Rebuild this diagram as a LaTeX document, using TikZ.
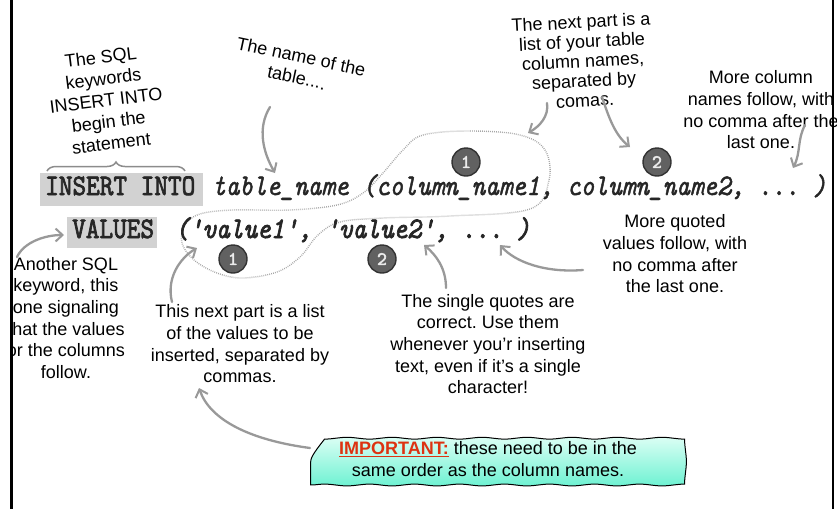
\documentclass[tikz,border=0pt]{standalone}
\usepackage{fontspec}
\setmainfont{Liberation Sans}
\newfontfamily\codeB{lmmono10-regular}[Extension=.otf, ItalicFont=lmmono10-italic, FakeBold=2.6]
\newfontfamily\codeM{lmmono10-regular}[Extension=.otf, ItalicFont=lmmono10-italic, FakeBold=1.6]
\usetikzlibrary{arrows.meta,decorations.pathmorphing,decorations.pathreplacing}
\frenchspacing
\definecolor{impred}{HTML}{DD3311}
\definecolor{aqtop}{HTML}{E4FFF7}
\definecolor{aqbot}{HTML}{6EF2D2}
\definecolor{hlgray}{HTML}{D2D2D2}
\definecolor{codegray}{HTML}{262626}
\tikzset{
  note/.style={align=center, font=\fontsize{18}{21.7}\selectfont, text=black, inner sep=0pt},
  garrow/.style={draw=black!40, line width=2.3pt, line cap=round,
    -{Straight Barb[length=7pt,width=13pt,line width=2pt]}},
  numc/.style={circle, fill=black!62, draw=black!80, line width=1.4pt, minimum size=28pt,
    inner sep=0pt, text=black!8, font=\codeB\fontsize{19}{19}\selectfont},
  kwbox/.style={fill=hlgray, draw=none},
  code/.style={anchor=base west, inner sep=0pt, text=codegray},
  lasso/.style={draw=black!35, line width=1.4pt, dash pattern=on 0.8pt off 1.2pt},
  impbox/.style={align=center, font=\fontsize{18}{21.7}\selectfont, minimum width=355pt,
    minimum height=52pt, inner sep=0pt, top color=aqtop, bottom color=aqbot, draw=black,
    line width=1pt, decorate, decoration={snake, amplitude=0.9pt, segment length=45pt}},
}
\newcommand{\codesz}{\fontsize{26}{28}\selectfont}
\newcommand{\q}{\textquotesingle}
\begin{document}
\begin{tikzpicture}[x=1pt,y=-1pt]
\useasboundingbox (0,0) rectangle (837,509);
\fill[white] (0,0) rectangle (837,509);

% highlight boxes
\fill[kwbox] (40,173) rectangle (203,206);
\fill[kwbox] (67,217) rectangle (157,248);

% dotted lasso
\draw[lasso] plot[smooth cycle, tension=0.6] coordinates {
 (423,135) (470,131) (520,135) (545,150) (549,180) (530,209) (450,216) (383,218)
 (340,222) (318,235) (300,257) (277,272) (243,278) (217,273) (194,260) (182,243)
 (185,225) (200,214) (233,210) (290,210) (337,205) (363,193) (383,173) (403,150)};

% code
\node[code] (kw1) at (45,195) {\scalebox{1}[1.15]{\codeB\codesz INSERT INTO}};
\node[code] (row1) at (212,195) {\scalebox{1}[1.15]{\codeM\itshape\codesz table\_name (column\_name1, column\_name2, ... )}};
\node[code] (kw2) at (72,238) {\scalebox{1}[1.15]{\codeB\codesz VALUES}};
\node[code] (row2) at (175,238) {\scalebox{1}[1.15]{\codeB\itshape\codesz (\q value1\q, \q value2\q, ... )}};

% numbered circles
\node[numc] (n1a) at (466,162) {1};
\node[numc] (n2a) at (657,162) {2};
\node[numc] (n1b) at (233,259) {1};
\node[numc] (n2b) at (382,259) {2};

% notes
\node[note, rotate=7] (tA) at (106,100) {The SQL\\keywords\\INSERT INTO\\begin the\\statement};
\node[note, rotate=-12] (tB) at (299,67) {The name of the\\table....};
\node[note, rotate=3, font=\fontsize{18}{19.6}\selectfont] (tC) at (583,61) {The next part is a\\list of your table\\column names,\\separated by\\comas.};
\node[note] (tD) at (761,110) {More column\\names follow, with\\no comma after the\\last one.};
\node[note] (tE) at (675,254) {More quoted\\values follow, with\\no comma after\\the last one.};
\node[note] (tF) at (66,318) {Another SQL\\keyword, this\\one signaling\\that the values\\or the columns\\follow.};
\node[note] (tG) at (240,344) {This next part is a list\\of the values to be\\inserted, separated by\\commas.};
\node[note] (tH) at (488,344) {The single quotes are\\correct. Use them\\whenever you’r inserting\\text, even if it’s a single\\character!};
\node[impbox] (imp) at (488,459) {\textcolor{impred}{\bfseries\underline{IMPORTANT:}} these need to be in the\\same order as the column names.};

% brace
\coordinate (brL) at (47,171);
\coordinate (brR) at (185,171);
\draw[draw=black!45, line width=1.5pt, decorate, decoration={brace, amplitude=9pt}] (brL) -- (brR);

% arrow end points
\coordinate (sB) at (270,107);   \coordinate (eB) at (275,173);
\coordinate (sC1) at (547,103);  \coordinate (eC1) at (528,133);
\coordinate (sC2) at (602,97);   \coordinate (eC2) at (630,147);
\coordinate (sD) at (805,125);   \coordinate (eD) at (793,168);
\coordinate (sF) at (17,257);    \coordinate (eF) at (64,235);
\coordinate (sG) at (172,302);   \coordinate (eG) at (197,248);
\coordinate (sI) at (310,448);   \coordinate (eI) at (199,388);
\coordinate (sH) at (446,288);   \coordinate (eH) at (424,245);
\coordinate (sE) at (583,270);   \coordinate (eE) at (500,245);

\draw[garrow] (sB) .. controls (257,128) and (263,152) .. (eB);
\draw[garrow] (sC1) .. controls (549,116) and (540,126) .. (eC1);
\draw[garrow] (sC2) .. controls (609,118) and (615,135) .. (eC2);
\draw[garrow] (sD) .. controls (797,140) and (801,152) .. (eD);
\draw[garrow] (sF) .. controls (24,242) and (45,235) .. (eF);
\draw[garrow] (sG) .. controls (166,278) and (180,258) .. (eG);
\draw[garrow] (sI) .. controls (250,440) and (210,420) .. (eI);
\draw[garrow] (sH) .. controls (446,268) and (436,255) .. (eH);
\draw[garrow] (sE) .. controls (545,273) and (515,262) .. (eE);

% borders
\fill[white] (0,0) rectangle (10,509);
\draw[line width=2.6pt] (11.3,0) -- (11.3,509);
\draw[line width=2.2pt] (833,0) -- (833,509);
\end{tikzpicture}
\end{document}
